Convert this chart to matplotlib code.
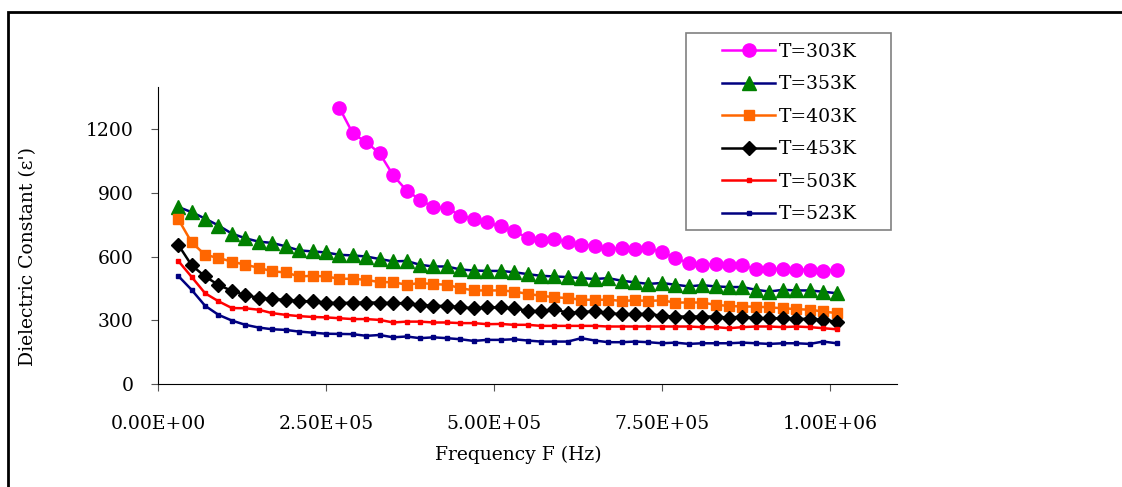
import matplotlib
matplotlib.use("Agg")
import matplotlib.pyplot as plt
from matplotlib.patches import Rectangle
from matplotlib.ticker import FuncFormatter

# frequency points (Hz)
freq = [30000, 50000, 70000, 90000, 110000, 130000, 150000, 170000, 190000, 210000,
        230000, 250000, 270000, 290000, 310000, 330000, 350000, 370000, 390000, 410000,
        430000, 450000, 470000, 490000, 510000, 530000, 550000, 570000, 590000, 610000,
        630000, 650000, 670000, 690000, 710000, 730000, 750000, 770000, 790000, 810000,
        830000, 850000, 870000, 890000, 910000, 930000, 950000, 970000, 990000, 1010000]

# T=303K only measured from 270 kHz up
eps_303 = [1302, 1181, 1140, 1087, 984, 912, 869, 833, 830, 794, 778, 762, 743, 722,
           688, 680, 683, 669, 657, 652, 636, 641, 638, 641, 622, 594, 570, 562, 565,
           559, 559, 543, 543, 543, 539, 539, 535, 539]
eps_353 = [835, 810, 780, 747, 709, 687, 671, 665, 649, 630, 625, 620, 609, 606, 601,
           589, 578, 580, 562, 554, 554, 540, 535, 533, 533, 527,
           518, 510, 507, 504, 499, 495, 499, 487, 479, 472, 476, 468, 460, 466, 460,
           457, 457, 444, 436, 444, 441, 441, 435, 428]
eps_403 = [778, 668, 609, 594, 577, 562, 548, 531, 526, 507, 510, 507, 496, 496, 491,
           480, 480, 468, 476, 471, 468, 452, 441, 441, 441, 436,
           425, 416, 409, 405, 397, 397, 397, 392, 394, 392, 394, 384, 384, 384, 373,
           368, 365, 365, 361, 357, 353, 350, 342, 334]
eps_453 = [657, 560, 507, 467, 439, 419, 406, 400, 397, 391, 389, 384, 381, 384, 384,
           384, 381, 381, 373, 368, 368, 362, 357, 361, 361, 356,
           346, 342, 354, 334, 340, 342, 334, 329, 329, 331, 321, 318, 318, 318, 318,
           313, 318, 310, 310, 310, 307, 307, 302, 294]
eps_503 = [581, 505, 428, 390, 358, 357, 350, 334, 326, 320, 316, 314, 310,
           306, 306, 302, 290, 294, 294, 290, 290, 287, 287, 282, 283, 279,
           279, 274, 274, 274, 274, 274, 271, 271, 271, 271, 271, 271, 271, 268, 268,
           263, 268, 271, 271, 268, 271, 268, 263, 258]
eps_523 = [510, 444, 369, 326, 299, 279, 266, 258, 255, 247, 242, 237, 236,
           235, 227, 231, 220, 224, 216, 220, 216, 211, 203, 208, 208, 211,
           205, 200, 200, 200, 216, 205, 197, 197, 200, 197, 192, 195, 189, 192, 192,
           192, 195, 192, 189, 192, 192, 189, 200, 192]

plt.rcParams['font.family'] = ['DejaVu Serif']
plt.rcParams['font.size'] = 13.5

W, H = 1122, 487
fig = plt.figure(figsize=(W / 100, H / 100), dpi=100)
ax = fig.add_axes([158 / W, 103 / H, 739 / W, 297 / H])

lw = 1.8
ax.plot(freq[12:], eps_303, color='#FF00FF', lw=lw, marker='o', ms=9.5,
        mfc='#FF00FF', mec='#FF00FF', label='T=303K')
ax.plot(freq, eps_353, color='#000080', lw=lw, marker='^', ms=9.5,
        mfc='#008000', mec='#008000', label='T=353K')
ax.plot(freq, eps_403, color='#FF6600', lw=lw, marker='s', ms=7.5,
        mfc='#FF6600', mec='#FF6600', label='T=403K')
ax.plot(freq, eps_453, color='black', lw=lw, marker='D', ms=7.5,
        mfc='black', mec='black', label='T=453K')
ax.plot(freq, eps_503, color='#FF0000', lw=lw, marker='s', ms=3,
        mfc='#FF0000', mec='#FF0000', label='T=503K')
ax.plot(freq, eps_523, color='#000080', lw=lw, marker='s', ms=3,
        mfc='#000080', mec='#000080', label='T=523K')

ax.set_xlim(0, 1.1e6)
ax.set_ylim(0, 1400)
ax.set_xticks([0, 2.5e5, 5e5, 7.5e5, 1e6])
ax.set_yticks([0, 300, 600, 900, 1200])
ax.xaxis.set_major_formatter(FuncFormatter(lambda v, p: f"{v:.2E}"))
ax.spines['top'].set_visible(False)
ax.spines['right'].set_visible(False)
ax.tick_params(direction='out', length=5, color='#555555')
ax.tick_params(axis='x', pad=17)
ax.tick_params(axis='y', pad=12.5)

ax.set_xlabel('Frequency F (Hz)', va='center')
ax.xaxis.set_label_coords((518 - 158) / 739, (384 - 455) / 297)
ax.set_ylabel("Dielectric Constant (\u03b5')", va='center')
ax.yaxis.set_label_coords((28 - 158) / 739, (384 - 257) / 297)

# legend entries, frame drawn separately so the padding can match
leg = ax.legend(loc='upper left', bbox_to_anchor=(722 / W, 1 - 43 / H),
                bbox_transform=fig.transFigure, frameon=False,
                handlelength=2.85, labelspacing=0.77, borderpad=0,
                handletextpad=0.2, borderaxespad=0)
fig.add_artist(Rectangle((686 / W, 1 - 230 / H), 205 / W, 197 / H,
                         transform=fig.transFigure, fill=True, facecolor='white',
                         lw=1.2, edgecolor='#808080', zorder=1))
leg.set_zorder(5)
fig.add_artist(leg)

# outer chart border
fig.add_artist(Rectangle((8 / W, -0.1), 1.2, 1.1 - 12 / H,
                         transform=fig.transFigure, fill=False, lw=2,
                         edgecolor='black', clip_on=False))

fig.savefig('out.png', dpi=100)
